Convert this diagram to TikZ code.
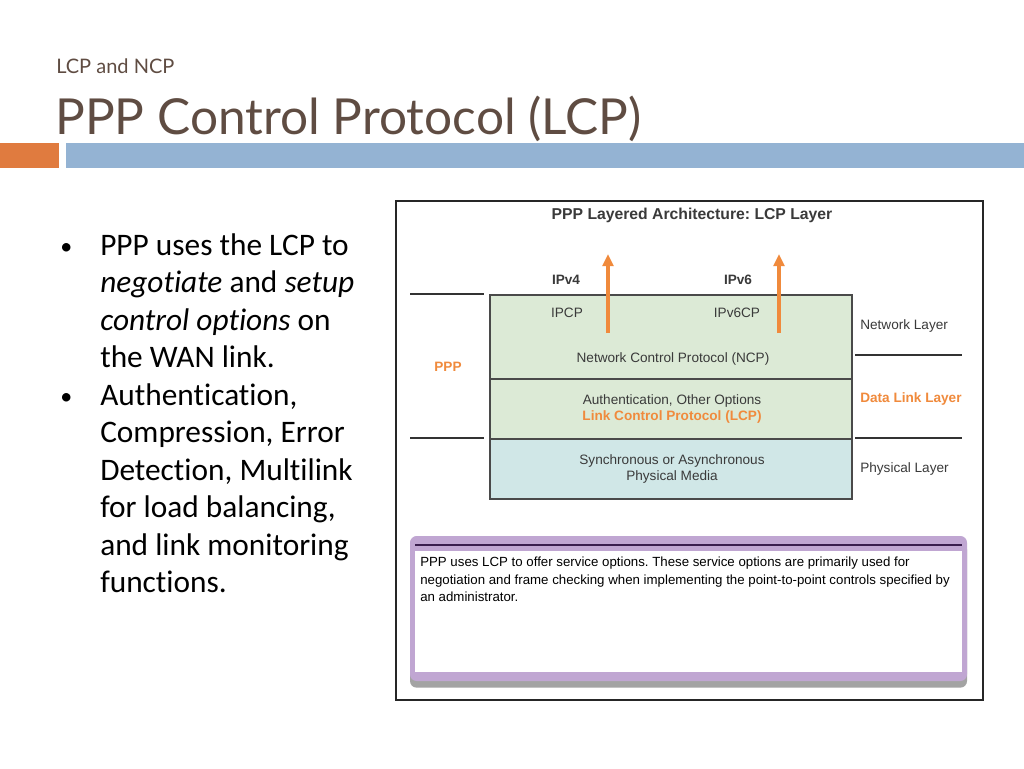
\documentclass[tikz,border=0pt]{standalone}
\usepackage{fontspec}
\setmainfont{Carlito}[Ligatures=NoCommon]
\newfontfamily\titlefont{Lato}
\newfontfamily\arial{Liberation Sans}
\usetikzlibrary{arrows.meta,shadows}
\definecolor{titlecol}{HTML}{5F4C42}
\definecolor{orbar}{HTML}{E07B3F}
\definecolor{bluebar}{HTML}{94B3D3}
\definecolor{grn}{HTML}{DCEAD6}
\definecolor{phys}{HTML}{D0E7E7}
\definecolor{edge}{HTML}{4A4A4A}
\definecolor{ciscoor}{HTML}{F08A3C}
\definecolor{lav}{HTML}{C0A6D2}
\definecolor{dkpurp}{HTML}{3A1E4E}
\definecolor{txt}{HTML}{3A3A3A}
\tikzset{
  layer/.style={draw=edge,line width=1.5pt,inner sep=0pt},
  dtext/.style={font=\arial\fontsize{10.2pt}{12.4pt}\selectfont,text=txt,inner sep=0pt},
  dbold/.style={font=\arial\bfseries\fontsize{10.2pt}{12.4pt}\selectfont,text=txt,inner sep=0pt},
  otext/.style={font=\arial\bfseries\fontsize{10.2pt}{12.4pt}\selectfont,text=ciscoor,inner sep=0pt},
  sepline/.style={draw=black!80,line width=0.8pt},
  uparrow/.style={draw=ciscoor,line width=2.6pt,-{Triangle[width=8pt,length=9pt]}},
  bullet/.style={font=\fontsize{23.5pt}{28.1pt}\selectfont,text=black,inner sep=0pt,anchor=north west,align=left},
  bdot/.style={anchor=base west,inner sep=0pt,font=\fontsize{18pt}{20pt}\selectfont}
}
\begin{document}
\frenchspacing
\begin{tikzpicture}[x=0.75pt,y=-0.75pt]
\useasboundingbox (0,0) rectangle (1024,768);
\fill[white] (0,0) rectangle (1024,768);
% header
\node[anchor=base west,inner sep=0pt,text=titlecol,font=\titlefont\fontsize{15pt}{18pt}\selectfont] (sub) at (56,73) {LCP and NCP};
\node[anchor=base west,inner sep=0pt,text=titlecol,font=\titlefont\fontsize{37.2pt}{42pt}\selectfont] (title) at (55,134) {PPP Control Protocol (LCP)};
\fill[orbar] (0,143) rectangle (59,168);
\fill[bluebar] (66,143) rectangle (1024,168);
% bullets
\node[bdot] (b1) at (60,254) {•};
\node[bdot] (b2) at (60,404) {•};
\node[bullet] (t1) at (100,233.5) {PPP uses the LCP to\\ \textit{negotiate} and \textit{setup}\\ \textit{control options} on\\ the WAN link.};
\node[bullet] (t2) at (100,383.5) {Authentication,\\ Compression, Error\\ Detection, Multilink\\ for load balancing,\\ and link monitoring\\ functions.};
% diagram frame
\draw[draw=black!85,line width=0.9pt] (396,201) rectangle (983,700);
\node[dbold,font=\arial\bfseries\fontsize{11.8pt}{14pt}\selectfont] (dtitle) at (692,215) {PPP Layered Architecture: LCP Layer};
% layers
\node[layer,fill=grn,minimum width=362*0.75pt,minimum height=84*0.75pt,anchor=north west] (ncp) at (489,294) {};
\node[layer,fill=grn,minimum width=362*0.75pt,minimum height=60*0.75pt,anchor=north west] (lcp) at (489,378) {};
\node[layer,fill=phys,minimum width=362*0.75pt,minimum height=60*0.75pt,anchor=north west] (phy) at (489,438) {};
\node[dtext] (ipcp) at (567,313) {IPCP};
\node[dtext] (ipv6cp) at (737,313) {IPv6CP};
\node[dtext] (ncpt) at (673,359) {Network Control Protocol (NCP)};
\node[dtext] (auth) at (672,401) {Authentication, Other Options};
\node[otext] (lcpt) at (672,417) {Link Control Protocol (LCP)};
\node[dtext,align=center] (phyt) at (672,469) {Synchronous or Asynchronous\\Physical Media};
\node[dbold] (ipv4) at (566,280) {IPv4};
\node[dbold] (ipv6) at (738,280) {IPv6};
\coordinate (a1s) at (608,333);
\coordinate (a1e) at (608,254);
\coordinate (a2s) at (779,333);
\coordinate (a2e) at (779,254);
\draw[uparrow] (a1s) -- (a1e);
\draw[uparrow] (a2s) -- (a2e);
% side labels and lines
\coordinate (l1a) at (410,294); \coordinate (l1b) at (484,294);
\coordinate (l2a) at (410,438); \coordinate (l2b) at (484,438);
\coordinate (r1a) at (855,355); \coordinate (r1b) at (962,355);
\coordinate (r2a) at (855,438); \coordinate (r2b) at (962,438);
\draw[sepline] (l1a) -- (l1b);
\draw[sepline] (l2a) -- (l2b);
\draw[sepline] (r1a) -- (r1b);
\draw[sepline] (r2a) -- (r2b);
\node[otext] (ppp) at (448,367) {PPP};
\node[dtext,anchor=west] (netl) at (860,326) {Network Layer};
\node[otext,anchor=west] (dll) at (860,399) {Data Link Layer};
\node[dtext,anchor=west] (phyl) at (860,469) {Physical Layer};
% purple info box
\fill[lav,rounded corners=5pt,drop shadow={shadow xshift=0pt,shadow yshift=-5pt,opacity=0.55,fill=black!65}] (410,536) rectangle (967,681);
\draw[draw=dkpurp,line width=1.5pt] (415,545) -- (962,545);
\fill[white] (415,551) rectangle (962,672);
\node[dtext,anchor=north west,align=left,text=black,font=\arial\fontsize{9.95pt}{13.1pt}\selectfont] (info) at (420,557) {PPP uses LCP to offer service options. These service options are primarily used for\\negotiation and frame checking when implementing the point-to-point controls specified by\\an administrator.};
\end{tikzpicture}
\end{document}
